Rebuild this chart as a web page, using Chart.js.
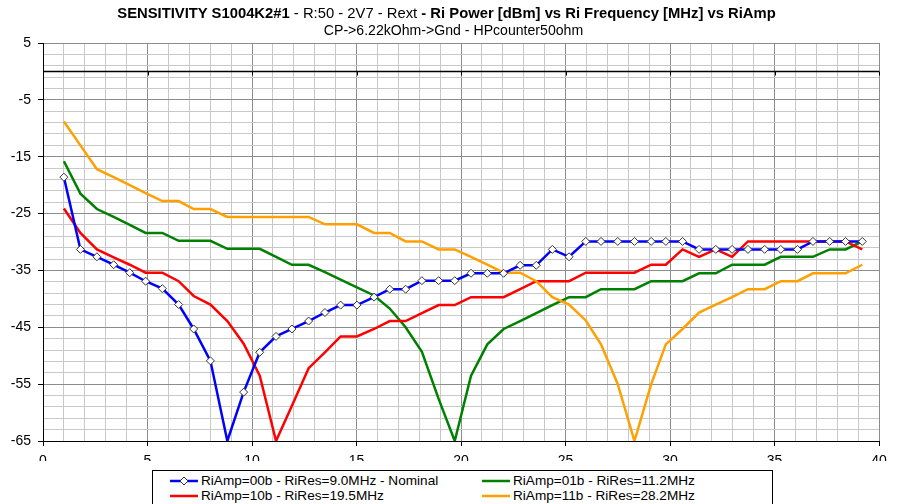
<!DOCTYPE html>
<html lang="en">
<head>
  <meta charset="UTF-8" />
  <title>Sensitivity S1004K2#1</title>
  <script src="https://cdn.jsdelivr.net/npm/chart.js"></script>
  <style>
    body {
      margin: 0;
      background: #fff;
      font-family: "Liberation Sans", Arial, sans-serif;
      color: #000;
    }
    .page {
      position: relative;
      width: 899px;
      height: 504px;
      overflow: hidden;
    }
    #chart {
      position: absolute;
      left: 0;
      top: 0;
    }
    .title {
      position: absolute;
      left: 0;
      width: 899px;
      text-align: center;
      white-space: nowrap;
    }
    .title b { font-weight: bold; }
    .legend {
      position: absolute;
      left: 152px;
      top: 470px;
      width: 619px;
      height: 40px;
      border: 1px solid #000;
      background: #fff;
    }
    .item {
      position: absolute;
      font-size: 13.6px;
      white-space: nowrap;
      line-height: 15px;
    }
    .item svg {
      vertical-align: middle;
      margin-right: 3px;
    }
  </style>
</head>
<body>
<div class="page">
  <canvas id="chart" width="899" height="504"></canvas>
  <div class="title" style="top:5px;font-size:14.8px;left:-3px"><b>SENSITIVITY S1004K2#1</b> - R:50 - 2V7 - Rext <b>- Ri Power [dBm] vs Ri Frequency [MHz] vs RiAmp</b></div>
  <div class="title" style="top:22px;font-size:14.1px;left:4px">CP-&gt;6.22kOhm-&gt;Gnd - HPcounter50ohm</div>
  <div class="legend" id="legend"></div>
</div>

<script>
// frequency points [MHz]
const freq = [1.0, 1.79, 2.58, 3.38, 4.15, 4.91, 5.71, 6.49, 7.21, 8.01,
  8.82, 9.6, 10.37, 11.15, 11.91, 12.71, 13.49, 14.24, 15.02,
  15.84, 16.59, 17.35, 18.13, 18.93, 19.7, 20.48, 21.26, 22.04,
  22.83, 23.6, 24.37, 25.17, 25.97, 26.7, 27.5, 28.3, 29.1, 29.8,
  30.6, 31.39, 32.19, 32.97, 33.73, 34.53, 35.3, 36.1, 36.84, 37.64, 38.4, 39.2];

// Ri power [dBm] per RiAmp setting
const amp00 = [-18.6, -31.3, -32.6, -34.0, -35.4, -36.9, -38.2, -41.0, -45.3, -50.9,
  -65, -56.4, -49.4, -46.6, -45.3, -43.9, -42.4, -41.1, -41.1,
  -39.7, -38.3, -38.3, -36.8, -36.8, -36.8, -35.5, -35.5, -35.5,
  -34.1, -34.1, -31.3, -32.6, -29.9, -29.9, -29.9, -29.9, -29.9, -29.9,
  -29.9, -31.3, -31.3, -31.3, -31.3, -31.3, -31.3, -31.3, -29.9, -29.9, -29.9, -29.9];

const amp01 = [-15.8, -21.5, -24.2, -25.6, -27.0, -28.4, -28.4, -29.8, -29.8, -29.8,
  -31.2, -31.2, -31.2, -32.6, -34.0, -34.0, -35.3, -36.6, -38.0,
  -39.4, -41.7, -45.0, -49.3, -57.6, -65, -53.5, -48.0, -45.3,
  -43.9, -42.5, -41.1, -39.7, -39.7, -38.3, -38.3, -38.3, -36.9, -36.9,
  -36.9, -35.5, -35.5, -34.0, -34.0, -34.0, -32.6, -32.6, -32.6, -31.3, -31.3, -29.9];

const amp10 = [-24.1, -28.4, -31.3, -32.7, -34.0, -35.4, -35.4, -36.9, -39.5, -41.0,
  -43.9, -47.9, -53.5, -65, -58.8, -52.2, -49.4, -46.6, -46.6,
  -45.3, -43.9, -43.9, -42.5, -41.1, -41.1, -39.7, -39.7, -39.7,
  -38.3, -36.9, -36.9, -36.9, -35.4, -35.4, -35.4, -35.4, -34.0, -34.0,
  -31.3, -32.6, -31.3, -32.6, -29.9, -29.9, -29.9, -29.9, -29.9, -29.9, -29.9, -31.3];

const amp11 = [-8.8, -13.0, -17.2, -18.6, -20.0, -21.4, -22.8, -22.8, -24.2, -24.2,
  -25.6, -25.6, -25.6, -25.6, -25.6, -25.6, -26.9, -26.9, -26.9,
  -28.4, -28.4, -29.9, -29.9, -31.3, -31.3, -32.6, -34.0, -35.4,
  -35.4, -36.9, -39.7, -41.0, -43.8, -48.0, -55.0, -65, -55.0, -48.0,
  -45.3, -42.4, -41.0, -39.7, -38.3, -38.3, -36.9, -36.9, -35.5, -35.5, -35.5, -34.0];

const seriesNames = [
  "RiAmp=00b - RiRes=9.0MHz - Nominal",
  "RiAmp=01b - RiRes=11.2MHz",
  "RiAmp=10b - RiRes=19.5MHz",
  "RiAmp=11b - RiRes=28.2MHz"
];
const seriesColors = ["#0000ff", "#008000", "#ff0000", "#ffa000"];
const seriesValues = [amp00, amp01, amp10, amp11];

const FONT = "'Liberation Sans', Arial, sans-serif";

function toPoints(values) {
  return values.map((v, i) => ({ x: freq[i], y: v }));
}

const datasets = seriesValues.map((vals, i) => ({
  label: seriesNames[i],
  data: toPoints(vals),
  borderColor: seriesColors[i],
  backgroundColor: seriesColors[i],
  borderWidth: 2.5,
  tension: 0,
  order: i === 0 ? 0 : 5 - i,
  pointRadius: i === 0 ? (c => (c.raw && c.raw.y <= -65 ? 0 : 4)) : 0,
  pointStyle: 'rectRot',
  pointBackgroundColor: '#fff',
  pointBorderColor: '#333',
  pointBorderWidth: 1
}));

// horizontal line at 0 dBm with small tick marks, like the crossing axis
const zeroLine = {
  id: 'zeroLine',
  beforeDatasetsDraw(chart) {
    const { ctx, chartArea, scales } = chart;
    const y = Math.round(scales.y.getPixelForValue(0)) + 0.5;
    ctx.save();
    ctx.strokeStyle = '#000';
    ctx.lineWidth = 1.5;
    ctx.beginPath();
    ctx.moveTo(chartArea.left, y);
    ctx.lineTo(chartArea.right, y);
    ctx.stroke();
    ctx.lineWidth = 1;
    for (let v = 0; v <= 40; v += 5) {
      const x = Math.round(scales.x.getPixelForValue(v)) + 0.5;
      ctx.beginPath();
      ctx.moveTo(x, y);
      ctx.lineTo(x, y + 4);
      ctx.stroke();
    }
    ctx.restore();
  }
};

new Chart(document.getElementById('chart'), {
  type: 'line',
  data: { datasets },
  options: {
    responsive: false,
    animation: false,
    devicePixelRatio: 1,
    layout: { padding: { top: 43, right: 20, bottom: 43, left: 0 } },
    plugins: {
      legend: { display: false },
      title: { display: false },
      tooltip: { enabled: false }
    },
    scales: {
      x: {
        type: 'linear',
        min: 0,
        max: 40,
        afterFit: s => { s.height = 20; },
        border: { color: '#000', width: 1 },
        grid: {
          color: c => (c.tick.value % 5 === 0 ? '#8c8c8c' : '#c8c8c8'),
          tickColor: c => (c.tick.value % 5 === 0 ? '#000' : 'rgba(0,0,0,0)'),
          tickLength: 5
        },
        ticks: {
          stepSize: 1,
          autoSkip: false,
          maxRotation: 0,
          padding: 7,
          color: '#000',
          font: { family: FONT, size: 14 },
          callback: v => (v % 5 === 0 ? v : '')
        }
      },
      y: {
        type: 'linear',
        min: -65,
        max: 5,
        afterFit: s => { s.width = 43; },
        border: { color: '#000', width: 1 },
        grid: {
          color: c => (Math.abs(c.tick.value - 5) % 10 === 0 ? '#8c8c8c' : '#c8c8c8'),
          tickColor: c => (Math.abs(c.tick.value - 5) % 10 === 0 ? '#000' : 'rgba(0,0,0,0)'),
          tickLength: 5
        },
        ticks: {
          stepSize: 2,
          autoSkip: false,
          padding: 7,
          color: '#000',
          font: { family: FONT, size: 14 },
          callback: v => (Math.abs(v - 5) % 10 === 0 ? v : '')
        }
      }
    }
  },
  plugins: [zeroLine]
});

// legend box in two columns
const legendPos = [[17, 2], [329, 2], [17, 17], [329, 17]];
const legend = document.getElementById('legend');
seriesNames.forEach((name, i) => {
  const marker = i === 0
    ? '<polygon points="14,1 18,5 14,9 10,5" fill="#fff" stroke="#333" stroke-width="1"/>'
    : '';
  const item = document.createElement('div');
  item.className = 'item';
  item.style.left = legendPos[i][0] + 'px';
  item.style.top = legendPos[i][1] + 'px';
  item.innerHTML =
    '<svg width="28" height="10"><line x1="0" y1="5" x2="28" y2="5" stroke="' +
    seriesColors[i] + '" stroke-width="2.5"/>' + marker + '</svg>' + name;
  legend.appendChild(item);
});
</script>
</body>
</html>
